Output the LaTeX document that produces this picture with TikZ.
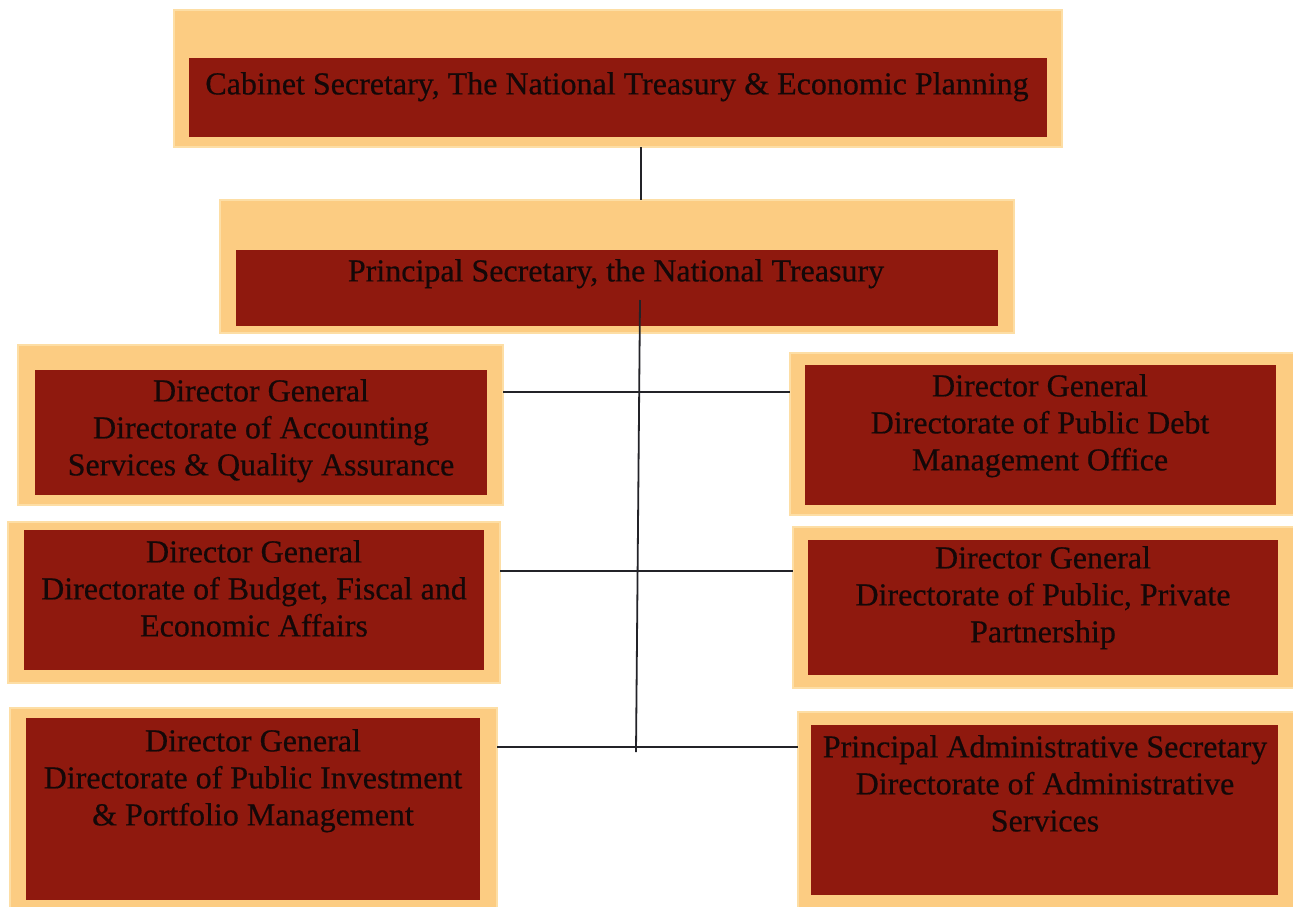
\documentclass[tikz,border=0pt]{standalone}
\usepackage{fontspec}
\setmainfont{Liberation Serif}
\newfontfamily\boxfont{Liberation Serif}[FakeBold=0.5]
\definecolor{peach}{RGB}{252,204,130}
\definecolor{peachrim}{RGB}{253,222,165}
\definecolor{dred}{RGB}{143,25,14}
\definecolor{lineg}{RGB}{35,35,40}
\begin{document}
\begin{tikzpicture}[x=1pt,y=-1pt,
  outerbox/.style={fill=peach, draw=peachrim, line width=2pt, inner sep=0pt, outer sep=0pt, anchor=north west},
  innerbox/.style={fill=dred, draw=none, inner sep=0pt, outer sep=0pt, anchor=north west},
  txt/.style={anchor=north, align=center, inner sep=0pt, text={rgb,255:red,20;green,8;blue,8}, font=\boxfont\fontsize{32}{37}\selectfont},
  conn/.style={draw=lineg, line width=1.8pt}]
\useasboundingbox (0,0) rectangle (1293,907);
\fill[white] (0,0) rectangle (1293,907);
% top boxes
\node[outerbox, minimum width=888pt, minimum height=137pt] (B1) at (174,10) {};
\node[innerbox, minimum width=858pt, minimum height=79pt] (B1i) at (189,58) {};
\node[txt] (B1t) at (617,72) {Cabinet Secretary, The National Treasury \& Economic Planning};
\node[outerbox, minimum width=794pt, minimum height=133pt] (B2) at (220,200) {};
\node[innerbox, minimum width=762pt, minimum height=76pt] (B2i) at (236,250) {};
\node[txt] (B2t) at (616,259) {Principal Secretary, the National Treasury};
% left boxes
\node[outerbox, minimum width=485pt, minimum height=160pt] (L1) at (18,345) {};
\node[innerbox, minimum width=452pt, minimum height=125pt] (L1i) at (35,370) {};
\node[txt] (L1t) at (261,379) {Director General\\Directorate of Accounting\\Services \& Quality Assurance};
\node[outerbox, minimum width=492pt, minimum height=161pt] (L2) at (8,522) {};
\node[innerbox, minimum width=460pt, minimum height=140pt] (L2i) at (24,530) {};
\node[txt] (L2t) at (254,540) {Director General\\Directorate of Budget, Fiscal and\\Economic Affairs};
\node[outerbox, minimum width=487pt, minimum height=205pt] (L3) at (10,708) {};
\node[innerbox, minimum width=454pt, minimum height=182pt] (L3i) at (26,718) {};
\node[txt] (L3t) at (253,729) {Director General\\Directorate of Public Investment\\\& Portfolio Management};
% right boxes
\node[outerbox, minimum width=510pt, minimum height=162pt] (R1) at (790,353) {};
\node[innerbox, minimum width=471pt, minimum height=140pt] (R1i) at (805,365) {};
\node[txt] (R1t) at (1040,374) {Director General\\Directorate of Public Debt\\Management Office};
\node[outerbox, minimum width=507pt, minimum height=161pt] (R2) at (793,527) {};
\node[innerbox, minimum width=470pt, minimum height=135pt] (R2i) at (808,540) {};
\node[txt] (R2t) at (1043,546) {Director General\\Directorate of Public, Private\\Partnership};
\node[outerbox, minimum width=502pt, minimum height=205pt] (R3) at (798,712) {};
\node[innerbox, minimum width=467pt, minimum height=170pt] (R3i) at (811,725) {};
\node[txt] (R3t) at (1045,735) {Principal Administrative Secretary\\Directorate of Administrative\\Services};
% connectors
\coordinate (t0) at (641,0);
\coordinate (tt) at (640,300);
\coordinate (tb) at (636,752);
\coordinate (h1) at (640,392);
\coordinate (h2) at (638,571);
\coordinate (h3) at (636,747);
\draw[conn] (B1.south -| t0) -- (B2.north -| t0);
\draw[conn] (tt) -- (tb);
\draw[conn] (L1.east |- h1) -- (R1.west |- h1);
\draw[conn] (L2.east |- h2) -- (R2.west |- h2);
\draw[conn] (L3.east |- h3) -- (R3.west |- h3);
\end{tikzpicture}
\end{document}
